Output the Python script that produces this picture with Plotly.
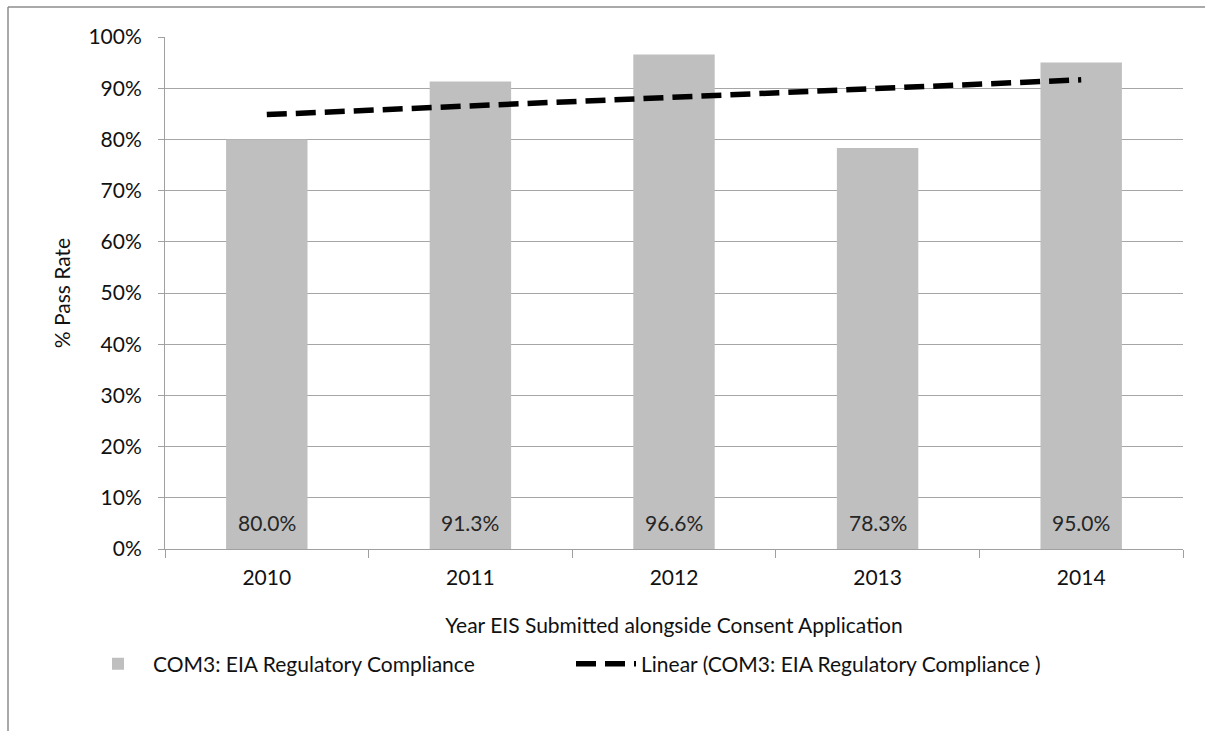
import numpy as np
import plotly.graph_objects as go

years = ["2010", "2011", "2012", "2013", "2014"]
pass_rate = [80.0, 91.3, 96.6, 78.3, 95.0]
y_ticks = list(range(0, 101, 10))
y_tick_labels = [f"{v}%" for v in y_ticks]

# least-squares linear trend across the categories
xi = np.arange(1, len(years) + 1)
slope, intercept = np.polyfit(xi, pass_rate, 1)
trend = list(slope * xi + intercept)

FONT = "Lato"
FS = 21
W, H = 1205, 731
L, R, T, B = 165, 22, 37, 182

fig = go.Figure()
fig.add_trace(go.Bar(
    x=years, y=pass_rate,
    name="COM3: EIA Regulatory Compliance",
    marker=dict(color="#bfbfbf", line=dict(width=0)),
))
fig.add_trace(go.Scatter(
    x=years, y=trend, mode="lines",
    name="Linear (COM3: EIA Regulatory Compliance )",
    line=dict(color="black", width=5.5, dash="20px,9px"),
))

# value labels near the foot of each bar (category index positions)
annotations = [
    dict(x=i, y=0, xref="x", yref="y", text=f"{v:.1f}%", showarrow=False,
         yanchor="middle", yshift=27, font=dict(size=FS, color="#262626", family=FONT))
    for i, v in enumerate(pass_rate)
]

pw = W - L - R
ph = H - T - B
px = lambda p: (p - L) / pw
py = lambda p: (H - B - p) / ph

fig.update_layout(
    width=W, height=H,
    margin=dict(l=L, r=R, t=T, b=B),
    paper_bgcolor="white", plot_bgcolor="white",
    bargap=0.6,
    font=dict(family=FONT, size=FS, color="#111111"),
    showlegend=True,
    legend=dict(orientation="h", x=px(83), xanchor="left", y=py(664), yanchor="middle",
                font=dict(size=FS, family=FONT), itemwidth=60, entrywidth=413,
                traceorder="normal"),
    annotations=annotations,
    xaxis=dict(
        type="category", categoryorder="array", categoryarray=years,
        showgrid=False, showline=True, linecolor="#a0a0a0", linewidth=1,
        ticks="outside", tickson="boundaries", ticklen=8, tickcolor="#a0a0a0",
        ticklabelstandoff=10, tickangle=0,
        title=dict(text="Year EIS Submitted alongside Consent Application",
                   font=dict(size=FS), standoff=30),
        tickfont=dict(size=FS),
    ),
    yaxis=dict(
        range=[0, 100], tickvals=y_ticks, ticktext=y_tick_labels,
        showgrid=True, gridcolor="#a6a6a6", gridwidth=1,
        showline=True, linecolor="#a0a0a0", linewidth=1,
        ticks="outside", ticklen=6, tickcolor="#a0a0a0",
        ticklabelstandoff=12,
        zeroline=False,
        title=dict(text="% Pass Rate", font=dict(size=FS), standoff=12),
        tickfont=dict(size=FS),
    ),
    shapes=[
        dict(type="line", xref="paper", yref="paper", x0=px(8), x1=px(W + 5),
             y0=py(7), y1=py(7), line=dict(color="#8c8c8c", width=1.5)),
        dict(type="line", xref="paper", yref="paper", x0=px(8), x1=px(8),
             y0=py(7), y1=py(H + 5), line=dict(color="#8c8c8c", width=1.5)),
    ],
)

fig.write_html("out.html")
